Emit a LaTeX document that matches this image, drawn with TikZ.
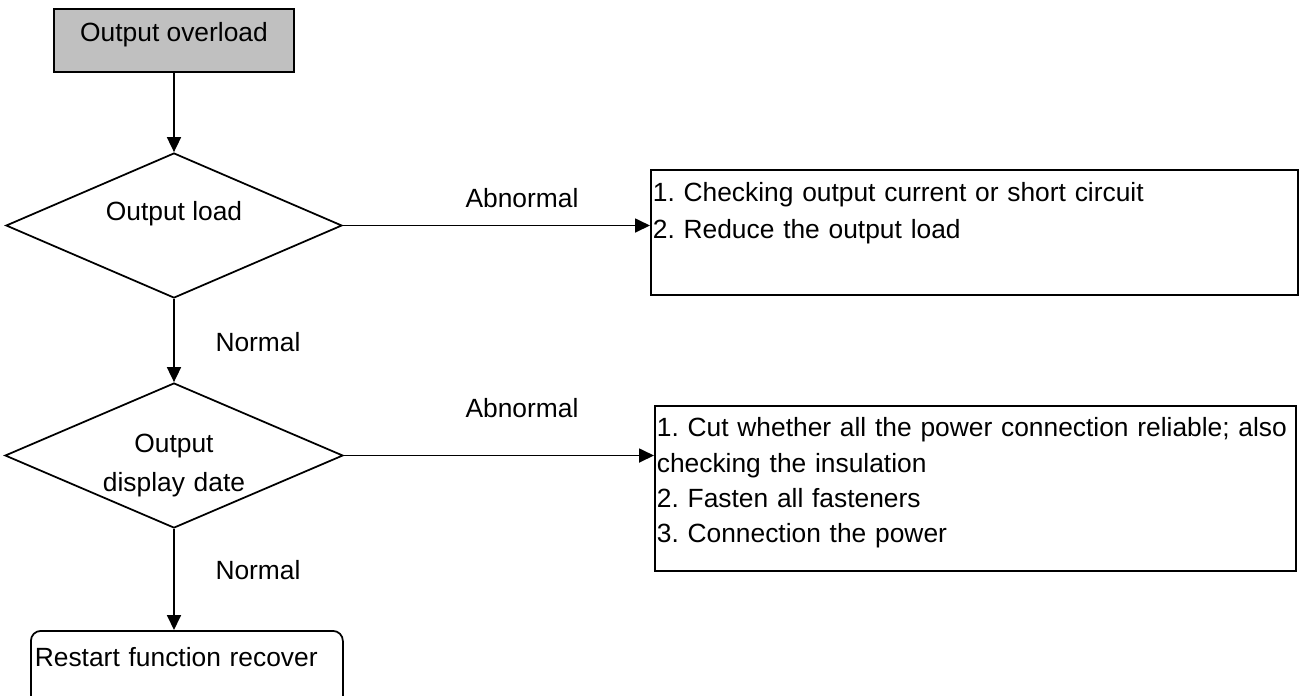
\documentclass[tikz,border=0pt]{standalone}
\usepackage{fontspec}
\setmainfont{Liberation Sans}
\usetikzlibrary{shapes.geometric,arrows.meta}
\definecolor{boxgray}{RGB}{192,192,192}
\frenchspacing
\begin{document}
\begin{tikzpicture}[line width=1pt,
  every node/.style={font=\fontsize{15}{18}\selectfont},
  flow/.style={-{Triangle[length=0.30cm,width=0.28cm]}},
  check/.style={diamond, draw, inner sep=0pt, aspect=2.32, minimum height=2.900cm},
  note/.style={draw, anchor=north west, inner xsep=0.04cm, inner ysep=0.04cm, align=left}]
  \useasboundingbox (0.000,0.000) rectangle (26.140,-13.900);
  \node[draw, fill=boxgray, minimum width=4.800cm, inner ysep=0.06cm, text height=0.58cm, text depth=0.56cm] (start) at (3.480,-0.810) {Output overload};
  \node[check, minimum width=6.720cm, text height=0.40cm, text depth=0.62cm] (d1) at (3.480,-4.510) {Output load};
  \node[check, minimum width=6.760cm, text width=3.4cm, align=center, text height=0.40cm, text depth=0.54cm, font=\fontsize{15}{22.7}\selectfont] (d2) at (3.480,-9.110) {Output\\display date};
  \node[note, text width=12.860cm, text height=0.60cm, text depth=1.82cm, font=\fontsize{15}{21}\selectfont] (fix1) at (13.000,-3.380) {1. Checking output current or short circuit\\2. Reduce the output load};
  \node[note, text width=12.740cm, text height=0.58cm, text depth=2.64cm, font=\fontsize{15}{20}\selectfont] (fix2) at (13.080,-8.100) {1. Cut whether all the power connection reliable; also\\checking the insulation\\2. Fasten all fasteners\\3. Connection the power};
  \node[draw, rounded corners=0.2cm, anchor=north west, text width=6.080cm, inner xsep=0.08cm, inner ysep=0.04cm, text height=0.68cm, text depth=0.84cm, align=left] (finish) at (0.600,-12.600) {Restart function recover};
  \draw[flow] (start) -- (d1);
  \draw[flow] (d1) -- (d2);
  \draw[flow] (d2.south) -- (d2.south |- finish.north);
  \draw[flow] (d1.east) -- (d1.east -| fix1.west);
  \draw[flow] (d2.east) -- (d2.east -| fix2.west);
  \node (ab1) at (10.440,-3.960) {Abnormal};
  \node (ab2) at (10.440,-8.160) {Abnormal};
  \node (no1) at (5.160,-6.840) {Normal};
  \node (no2) at (5.160,-11.400) {Normal};
\end{tikzpicture}
\end{document}
